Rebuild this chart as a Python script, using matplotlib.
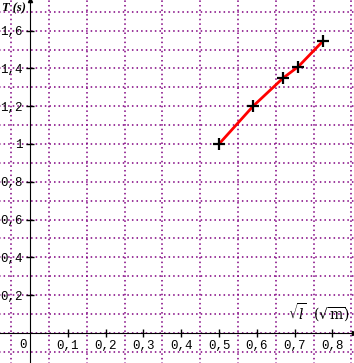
import matplotlib.pyplot as plt
import numpy as np

# racine de la longueur (sqrt(m)) et periode (s)
racine_l = [0.50, 0.59, 0.67, 0.71, 0.775]
periode = [1.00, 1.20, 1.35, 1.41, 1.545]

xticks = [0.1, 0.2, 0.3, 0.4, 0.5, 0.6, 0.7, 0.8]
xlabels = ["0,1", "0,2", "0,3", "0,4", "0,5", "0,6", "0,7", "0,8"]
yticks = [0.2, 0.4, 0.6, 0.8, 1.0, 1.2, 1.4, 1.6]
ylabels = ["0,2", "0,4", "0,6", "0,8", "1", "1,2", "1,4", "1,6"]

fig = plt.figure(figsize=(3.54, 3.63), dpi=100)
ax = fig.add_axes([0, 0, 1, 1])
ax.set_xlim(-0.0794, 0.857)
ax.set_ylim(-0.159, 1.762)

# quadrillage en pointilles
grille = "#800080"
ax.vlines(np.arange(-0.05, 0.86, 0.1), -0.2, 1.8, colors=grille, linestyles=(0, (1, 2)), lw=1.1, zorder=0)
ax.hlines(np.arange(-0.1, 1.75, 0.1), -0.1, 0.9, colors=grille, linestyles=(0, (1, 2)), lw=1.1, zorder=0)

# axes passant par l'origine
for cote in ["top", "right"]:
    ax.spines[cote].set_visible(False)
ax.spines["left"].set_position(("data", 0))
ax.spines["bottom"].set_position(("data", 0))
ax.plot(1, 0, ">k", ms=3, transform=ax.get_yaxis_transform(), clip_on=False)
ax.plot(0, 1, "^k", ms=3, transform=ax.get_xaxis_transform(), clip_on=False)

police = {"family": "Liberation Mono", "size": 9}
ax.set_xticks(xticks, xlabels, fontdict=police)
ax.set_yticks(yticks, ylabels, fontdict=police)
ax.tick_params(direction="inout", length=6, width=1, pad=2)
ax.text(-0.008, -0.03, "0", ha="right", va="top", fontdict=police)

# mesures
ax.plot(racine_l, periode, color="red", lw=2, zorder=3)
ax.plot(racine_l, periode, "k+", ms=8, mew=1.6, zorder=4)

ax.text(0.005, 0.977, "T (s)", transform=ax.transAxes, family="Liberation Serif",
        weight="bold", style="italic", fontsize=9, va="center")
ax.text(0.99, 0.138, r"$\sqrt{l}$  $(\sqrt{\mathrm{m}})$", transform=ax.transAxes,
        ha="right", va="center", fontsize=10, math_fontfamily="dejavuserif")

fig.savefig("out.png", dpi=100)
